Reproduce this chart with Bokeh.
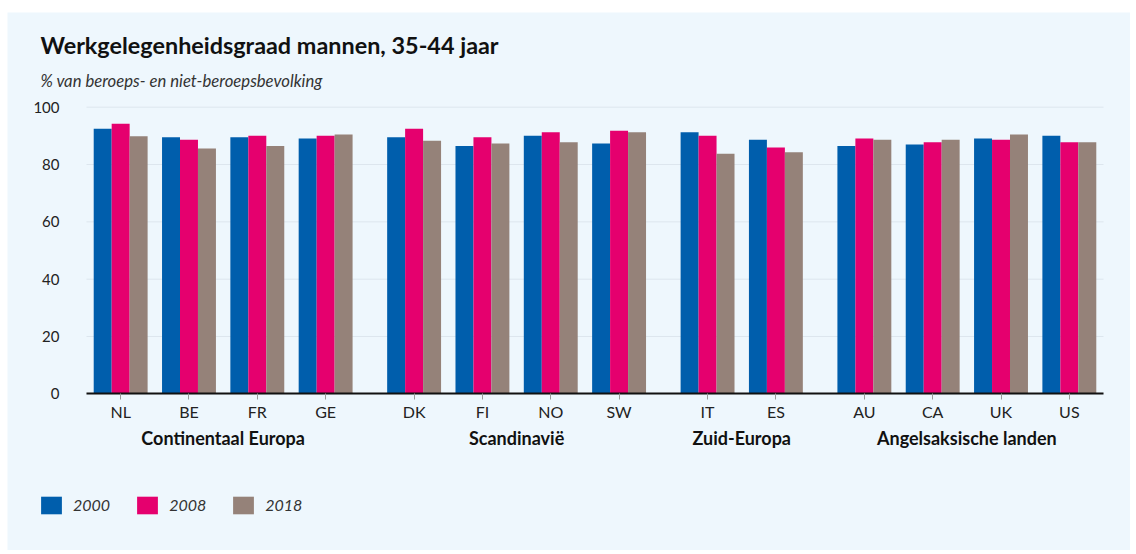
from bokeh.plotting import figure
from bokeh.models import (Range1d, ColumnDataSource, FixedTicker, Label, LinearAxis,
                          Legend, LegendItem, Spacer)
from bokeh.core.properties import value
from bokeh.transform import dodge
from bokeh.layouts import column, row
from bokeh.embed import file_html
from bokeh.resources import INLINE

groups = ["Continentaal Europa"] * 4 + ["Scandinavië"] * 4 + ["Zuid-Europa"] * 2 + ["Angelsaksische landen"] * 4
countries = ["NL", "BE", "FR", "GE", "DK", "FI", "NO", "SW", "IT", "ES", "AU", "CA", "UK", "US"]
v2000 = [92.5, 89.5, 89.5, 89.1, 89.5, 86.5, 90.0, 87.3, 91.3, 88.6, 86.5, 87.0, 89.1, 90.0]
v2008 = [94.2, 88.6, 90.0, 90.0, 92.5, 89.5, 91.3, 91.8, 90.0, 85.9, 89.1, 87.8, 88.6, 87.8]
v2018 = [89.9, 85.6, 86.5, 90.5, 88.3, 87.3, 87.8, 91.3, 83.8, 84.3, 88.6, 88.6, 90.5, 87.8]
years = ["2000", "2008", "2018"]
colors = ["#005eac", "#e5006e", "#958279"]
y_ticks = [0, 20, 40, 60, 80, 100]
title_text = "Werkgelegenheidsgraad mannen, 35-44 jaar"
subtitle_text = "% van beroeps- en niet-beroepsbevolking"

BG = "#eef7fd"
FONT = "Lato"
W, H = 1123, 538            # figure size (the light-blue panel)
PL, PR = 79, 27             # plot area inset left / right (px)
PT, PB = 94.7, 156.7        # plot area inset top / bottom (px)

# categorical layout on a numeric scale: 1000 units per country, extra gap between groups
UNIT, GPAD = 1000, 295
pos = []
cur = UNIT // 2
for i, g in enumerate(groups):
    if i > 0:
        cur += UNIT + (GPAD if g != groups[i - 1] else 0)
    pos.append(cur)
left_edge = pos[0] - UNIT // 2
right_edge = pos[-1] + UNIT // 2
pxu = (W - PL - PR) / (right_edge - left_edge)
pyu = (H - PT - PB) / 100.0

x_range = Range1d(left_edge - PL / pxu, right_edge + PR / pxu)
y_range = Range1d(-PB / pyu, 100 + PT / pyu)

source = ColumnDataSource(dict(x=pos, y2000=v2000, y2008=v2008, y2018=v2018))

p = figure(width=W, height=H, x_range=x_range, y_range=y_range, title=None,
           x_axis_location=None, y_axis_location=None,
           output_backend="svg", toolbar_location=None,
           min_border_left=0, min_border_right=0, min_border_top=0, min_border_bottom=0)
p.background_fill_color = BG
p.border_fill_color = BG
p.outline_line_color = None
p.grid.visible = False

# horizontal grid lines over the plot area
p.segment(x0=[left_edge] * len(y_ticks), x1=[right_edge] * len(y_ticks), y0=y_ticks, y1=y_ticks,
          line_color="#dde6ee", line_width=1)

bw = 0.263 * UNIT
renderers = []
for yr, col, k in zip(years, colors, [-1, 0, 1]):
    r = p.vbar(x=dodge("x", k * bw), top="y" + yr, width=bw, bottom=0,
               source=source, fill_color=col, line_color=None)
    renderers.append(r)

# x axis at y = 0
xaxis = LinearAxis(fixed_location=0, bounds=(left_edge, right_edge),
                   ticker=FixedTicker(ticks=pos),
                   major_label_overrides={x: c for x, c in zip(pos, countries)})
xaxis.axis_line_color = "#111111"
xaxis.axis_line_width = 2
xaxis.major_tick_line_color = "#999999"
xaxis.major_tick_out = 6
xaxis.major_tick_in = 0
xaxis.minor_tick_line_color = None
xaxis.major_label_standoff = 2
xaxis.major_label_text_font = FONT
xaxis.major_label_text_font_size = "16px"
xaxis.major_label_text_color = "#222222"
p.add_layout(xaxis, "below")

# y axis at the left edge of the plot area
yaxis = LinearAxis(fixed_location=left_edge, bounds=(0, 100), ticker=FixedTicker(ticks=y_ticks))
yaxis.axis_line_color = None
yaxis.major_tick_line_color = None
yaxis.minor_tick_line_color = None
yaxis.major_tick_out = 0
yaxis.major_tick_in = 0
yaxis.major_label_standoff = 27
yaxis.major_label_text_font = FONT
yaxis.major_label_text_font_size = "15px"
yaxis.major_label_text_color = "#222222"
p.add_layout(yaxis, "left")

# group labels below the country labels
group_names = list(dict.fromkeys(groups))
group_x = [sum(x for x, g in zip(pos, groups) if g == gn) / groups.count(gn) for gn in group_names]
p.text(x=group_x, y=[-44.0 / pyu] * len(group_names), text=group_names,
       text_font=value(FONT), text_font_size="18px", text_font_style="bold",
       text_color="#111111", text_align="center", text_baseline="middle")

# title and subtitle (screen units from bottom-left of the panel)
p.add_layout(Label(x=33, y=H - 32.3, x_units="screen", y_units="screen", text=title_text,
                   text_font=FONT, text_font_size="23.4px", text_font_style="bold",
                   text_color="#111111", text_baseline="alphabetic", text_align="left"))
p.add_layout(Label(x=33, y=H - 68, x_units="screen", y_units="screen", text=subtitle_text,
                   text_font=FONT, text_font_size="16.7px", text_font_style="italic",
                   text_color="#333333", text_baseline="alphabetic", text_align="left"))

legend = Legend(items=[LegendItem(label=yr, renderers=[r]) for yr, r in zip(years, renderers)],
                orientation="horizontal", location=(31, 34.5),
                glyph_width=26, glyph_height=22, label_standoff=9, spacing=24,
                padding=0, margin=0, border_line_color=None, background_fill_alpha=0,
                label_text_font=FONT, label_text_font_size="16px",
                label_text_font_style="italic", label_text_color="#333333")
p.add_layout(legend, "center")

layout = column(Spacer(height=12, width=W + 7), row(Spacer(width=7, height=H), p))
open("out.html", "w").write(file_html(layout, INLINE))
